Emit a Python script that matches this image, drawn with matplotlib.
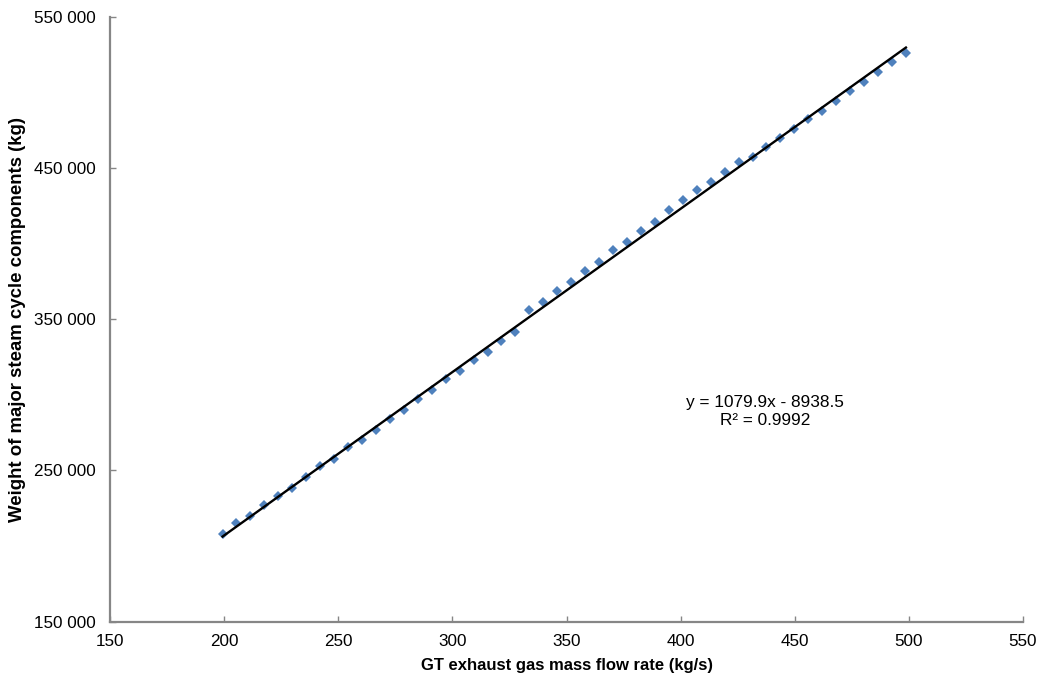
import matplotlib.pyplot as plt
from matplotlib.ticker import FuncFormatter

plt.rcParams['font.family'] = ['Liberation Sans', 'DejaVu Sans']

# GT exhaust gas mass flow rate (kg/s)
flow = [199.3, 205.4, 211.5, 217.6, 223.7, 229.8, 236.0, 242.1, 248.2, 254.3,
        260.4, 266.5, 272.6, 278.7, 284.8, 290.9, 297.1, 303.2, 309.3, 315.4,
        321.5, 327.6, 333.7, 339.8, 345.9, 352.0, 358.2, 364.3, 370.4, 376.5,
        382.6, 388.7, 394.8, 400.9, 407.0, 413.1, 419.3, 425.4, 431.5, 437.6,
        443.7, 449.8, 455.9, 462.0, 468.1, 474.2, 480.4, 486.5, 492.6, 498.7]

# weight of major steam cycle components (kg)
weight = [207800, 215300, 219900, 227200, 233300, 238600, 245700, 253100, 257600, 265300,
          270100, 277000, 284000, 289800, 297200, 303000, 310300, 315800, 323200, 328500,
          335600, 341700, 355900, 361200, 368700, 374400, 381900, 387600, 395600, 401300,
          408300, 414500, 422200, 428800, 435400, 440900, 447300, 454000, 457500, 463700,
          469800, 476000, 482600, 487700, 494300, 500900, 506700, 513300, 519900, 526000]

# linear trendline as printed on the chart
slope = 1079.9
intercept = -8938.5
r2 = 0.9992

fig = plt.figure(figsize=(10.44, 6.79), dpi=100)
ax = fig.add_axes([0.1054, 0.0844, 0.8745, 0.891])

ax.plot(flow, weight, linestyle='none', marker='D', markersize=5.5,
        color='#4F81BD', markeredgewidth=0, zorder=2)

x_fit = [min(flow), max(flow)]
y_fit = [slope * x + intercept for x in x_fit]
ax.plot(x_fit, y_fit, color='black', lw=1.7, zorder=3)

ax.text(437, 289000, f"y = {slope}x - {-intercept}\nR² = {r2}",
        ha='center', va='center', multialignment='center',
        fontsize=12.4, linespacing=1.25)

ax.set_xlim(150, 550)
ax.set_ylim(150000, 550000)
ax.set_xticks(range(150, 551, 50))
ax.set_yticks(range(150000, 550001, 100000))
ax.yaxis.set_major_formatter(FuncFormatter(lambda v, p: f"{int(v):,}".replace(",", " ")))

for side in ['top', 'right']:
    ax.spines[side].set_visible(False)
for side in ['left', 'bottom']:
    ax.spines[side].set_color('#868686')
    ax.spines[side].set_linewidth(1.6)

ax.tick_params(direction='in', length=4, width=1, color='#868686',
               labelsize=12.3, labelcolor='black')
ax.tick_params(axis='y', pad=10)
ax.tick_params(axis='x', pad=9)

ax.set_xlabel("GT exhaust gas mass flow rate (kg/s)", fontsize=12,
              fontweight='bold', labelpad=6)
ax.set_ylabel("Weight of major steam cycle components (kg)", fontsize=13.4,
              fontweight='bold', labelpad=6)

fig.savefig('out.png', dpi=100)
